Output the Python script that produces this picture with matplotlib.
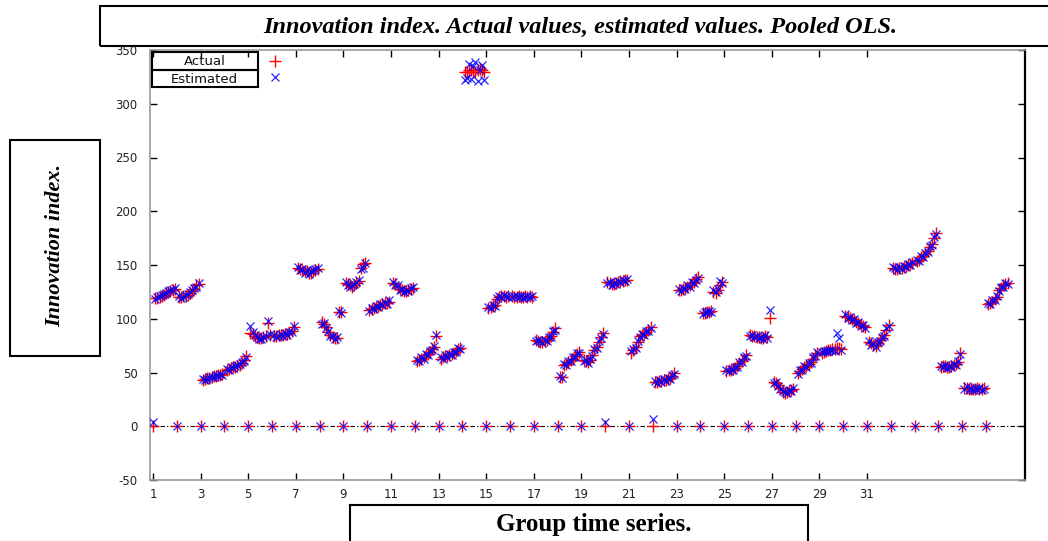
import matplotlib
matplotlib.use("Agg")
import matplotlib.pyplot as plt
from matplotlib.patches import Rectangle
from matplotlib.lines import Line2D
import numpy as np

plt.rcParams["axes.unicode_minus"] = False

# ---- data: 36 groups, each with a leading zero observation followed by 10 values ----
groups = list(range(1, 37))

actual = [
    [119, 119, 120, 121, 122, 124, 125, 126, 127, 128],
    [120, 120, 121, 121, 122, 124, 126, 128, 131, 132],
    [43, 44, 45, 45, 46, 47, 47, 48, 48, 49],
    [52, 53, 54, 55, 55, 56, 57, 59, 62, 65],
    [87, 86, 84, 83, 82, 82, 83, 84, 96, 85],
    [84, 84, 85, 85, 85, 86, 86, 87, 89, 92],
    [147, 146, 145, 144, 144, 143, 143, 144, 145, 146],
    [97, 95, 92, 88, 85, 83, 82, 82, 106, 106],
    [133, 132, 131, 130, 131, 133, 135, 147, 151, 152],
    [108, 109, 110, 111, 112, 113, 114, 115, 115, 116],
    [133, 132, 130, 128, 127, 126, 126, 127, 128, 129],
    [61, 62, 63, 64, 66, 67, 69, 72, 74, 84],
    [63, 64, 65, 65, 66, 67, 68, 70, 72, 73],
    [330, 330, 331, 331, 330, 330, 331, 332, 331, 330],
    [110, 111, 112, 113, 118, 120, 121, 121, 120, 121],
    [121, 120, 120, 121, 120, 120, 121, 120, 121, 120],
    [80, 79, 78, 78, 79, 80, 82, 84, 88, 91],
    [46, 46, 57, 58, 60, 62, 63, 65, 67, 69],
    [62, 61, 60, 62, 66, 71, 74, 78, 83, 87],
    [134, 133, 132, 132, 133, 134, 135, 135, 136, 136],
    [68, 71, 74, 78, 84, 85, 86, 88, 90, 92],
    [41, 41, 42, 42, 43, 43, 44, 45, 47, 50],
    [127, 127, 128, 129, 130, 131, 133, 134, 137, 139],
    [105, 105, 106, 106, 107, 125, 124, 127, 131, 134],
    [51, 52, 52, 53, 54, 56, 59, 61, 63, 66],
    [85, 84, 84, 83, 83, 82, 82, 84, 83, 101],
    [41, 40, 38, 36, 32, 31, 32, 33, 34, 35],
    [50, 51, 53, 55, 56, 58, 60, 63, 66, 68],
    [68, 69, 70, 71, 71, 72, 72, 73, 73, 72],
    [103, 102, 101, 100, 99, 97, 96, 94, 93, 92],
    [78, 77, 76, 75, 77, 80, 82, 85, 90, 94],
    [147, 146, 146, 147, 147, 148, 149, 150, 151, 152],
    [154, 155, 157, 158, 160, 163, 167, 170, 175, 180],
    [55, 56, 56, 55, 55, 56, 57, 58, 60, 68],
    [36, 36, 35, 35, 35, 35, 36, 35, 35, 36],
    [114, 115, 116, 118, 120, 127, 129, 131, 132, 133],
]

estimated = [
    [118, 120, 121, 122, 123, 124, 126, 127, 127, 129],
    [121, 119, 120, 122, 123, 125, 127, 129, 130, 133],
    [44, 43, 44, 46, 46, 46, 48, 47, 49, 48],
    [53, 52, 55, 54, 56, 57, 58, 60, 61, 64],
    [93, 88, 85, 83, 81, 81, 83, 84, 98, 86],
    [85, 83, 84, 86, 84, 87, 85, 88, 88, 93],
    [148, 145, 146, 143, 145, 142, 144, 145, 146, 147],
    [95, 96, 91, 89, 84, 84, 81, 83, 107, 105],
    [134, 131, 130, 131, 132, 134, 136, 146, 147, 152],
    [107, 110, 109, 112, 111, 114, 113, 116, 114, 117],
    [134, 131, 131, 127, 128, 125, 127, 126, 129, 130],
    [62, 61, 64, 63, 67, 66, 70, 71, 75, 85],
    [64, 63, 66, 64, 67, 66, 69, 69, 73, 72],
    [322, 324, 337, 323, 335, 339, 321, 331, 336, 322],
    [111, 110, 113, 112, 119, 121, 120, 122, 121, 120],
    [120, 121, 121, 120, 121, 119, 120, 121, 120, 121],
    [79, 80, 79, 77, 80, 79, 83, 83, 89, 90],
    [47, 45, 58, 57, 61, 61, 64, 64, 68, 68],
    [61, 62, 59, 63, 65, 72, 73, 79, 82, 86],
    [133, 134, 131, 133, 132, 135, 134, 136, 135, 137],
    [70, 72, 73, 79, 83, 86, 85, 89, 89, 91],
    [42, 40, 43, 41, 44, 42, 45, 44, 48, 49],
    [128, 126, 129, 128, 131, 130, 134, 133, 136, 138],
    [104, 106, 106, 107, 106, 127, 125, 128, 135, 133],
    [52, 51, 53, 52, 55, 55, 60, 60, 64, 65],
    [84, 85, 83, 84, 82, 83, 81, 85, 82, 108],
    [40, 41, 37, 35, 33, 32, 31, 34, 33, 36],
    [49, 52, 52, 56, 55, 59, 59, 64, 65, 69],
    [69, 70, 70, 70, 71, 71, 70, 87, 82, 71],
    [104, 101, 102, 99, 100, 96, 97, 93, 94, 91],
    [79, 76, 77, 74, 78, 79, 83, 84, 91, 93],
    [148, 147, 145, 148, 146, 149, 148, 151, 150, 153],
    [155, 154, 158, 157, 161, 162, 168, 169, 176, 179],
    [56, 55, 57, 54, 56, 55, 58, 57, 61, 67],
    [35, 37, 34, 36, 34, 36, 35, 36, 34, 35],
    [115, 114, 117, 117, 121, 126, 130, 130, 133, 132],
]

# values at the leading (zero) observation of each group
actual_first = [0] * 36
estimated_first = [0] * 36
estimated_first[0] = 4
estimated_first[19] = 4
estimated_first[21] = 7

y_ticks = [-50, 0, 50, 100, 150, 200, 250, 300, 350]
x_ticks = [1, 3, 5, 7, 9, 11, 13, 15, 17, 19, 21, 23, 25, 27, 29, 31]

title = "Innovation index. Actual values, estimated values. Pooled OLS."
ylabel = "Innovation index."
xlabel = "Group time series."

# ---- build series positions: each group has 11 obs spread over [g, g+1) ----
n_obs = 11
xs_a, ys_a, xs_e, ys_e = [], [], [], []
for i, g in enumerate(groups):
    xs_a.append(g)
    ys_a.append(actual_first[i])
    xs_e.append(g)
    ys_e.append(estimated_first[i])
    for k in range(10):
        xs_a.append(g + (k + 1) / n_obs)
        ys_a.append(actual[i][k])
        xs_e.append(g + (k + 1) / n_obs)
        ys_e.append(estimated[i][k])

W, H = 1048, 541
fig = plt.figure(figsize=(W / 100, H / 100), dpi=100)
ax = fig.add_axes([150 / W, 1 - 480 / H, (1025 - 150) / W, (480 - 50) / H])

ax.axhline(0, color="black", lw=0.8, ls=(0, (4, 2, 1, 2)), zorder=1)
ax.plot(xs_e, ys_e, ls="none", marker="x", color="#0000ff", ms=6, mew=0.9,
        alpha=0.85, zorder=3)
ax.plot(xs_a, ys_a, ls="none", marker="+", color="#ff0000", ms=8.5, mew=1.0,
        zorder=2)

ax.set_xlim(0.87, 37.64)
ax.set_ylim(-50, 350)
ax.set_yticks(y_ticks)
ax.set_xticks(x_ticks)
ax.tick_params(axis="both", direction="in", length=5, width=1, colors="black",
               labelsize=8.5, labelcolor="#222222", top=True, right=True)
ax.tick_params(axis="x", pad=6)
ax.tick_params(axis="y", pad=9)
for s in ["left", "top", "bottom"]:
    ax.spines[s].set_color("#999999")
    ax.spines[s].set_linewidth(1.2)
ax.spines["right"].set_color("black")
ax.spines["right"].set_linewidth(1.6)

# legend: boxed labels with keys to the right
x1 = (256 - 150) / 875
rows = [(0.9953, 0.9535, "Actual"), (0.9535, 0.914, "Estimated")]
for top, bot, lab in rows:
    ax.add_patch(Rectangle((0.002, bot), x1, top - bot, transform=ax.transAxes,
                           fill=False, ec="black", lw=1.5, clip_on=False, zorder=5))
    ax.text(0.002 + x1 / 2, (top + bot) / 2 - 0.002, lab, transform=ax.transAxes,
            ha="center", va="center", fontsize=9.5, color="#111111", zorder=6)
handles = [Line2D([], [], ls="none", marker="+", color="#ff0000", ms=8, mew=1.0),
           Line2D([], [], ls="none", marker="x", color="#0000ff", ms=6, mew=0.9, alpha=0.85)]
ax.legend(handles, [" ", " "], loc="upper left", bbox_to_anchor=(0.125, 1.008),
          frameon=False, handlelength=1.0, handletextpad=0.0, labelspacing=0.2,
          borderpad=0.2, fontsize=9.5)

# title box
fig.patches.append(Rectangle((100 / W, 1 - 46 / H), 1.0, 40 / H, transform=fig.transFigure,
                             fill=False, ec="black", lw=1.5))
fig.text(580 / W, 1 - 27 / H, title, ha="center", va="center", fontsize=17.5,
         family="Liberation Serif", style="italic", weight="bold")

# y label box
fig.patches.append(Rectangle((10 / W, 1 - 356 / H), 90 / W, 216 / H, transform=fig.transFigure,
                             fill=False, ec="black", lw=1.5))
fig.text(55 / W, 1 - 245 / H, ylabel, ha="center", va="center", rotation=90, fontsize=16,
         family="Liberation Serif", style="italic", weight="bold")

# x label box
fig.patches.append(Rectangle((350 / W, -0.02), 458 / W, 0.02 + (541 - 505) / H,
                             transform=fig.transFigure, fill=False, ec="black", lw=1.5))
fig.text(594 / W, 1 - 525 / H, xlabel, ha="center", va="center", fontsize=18,
         family="Liberation Serif", weight="bold")

fig.savefig("out.png", dpi=100)
